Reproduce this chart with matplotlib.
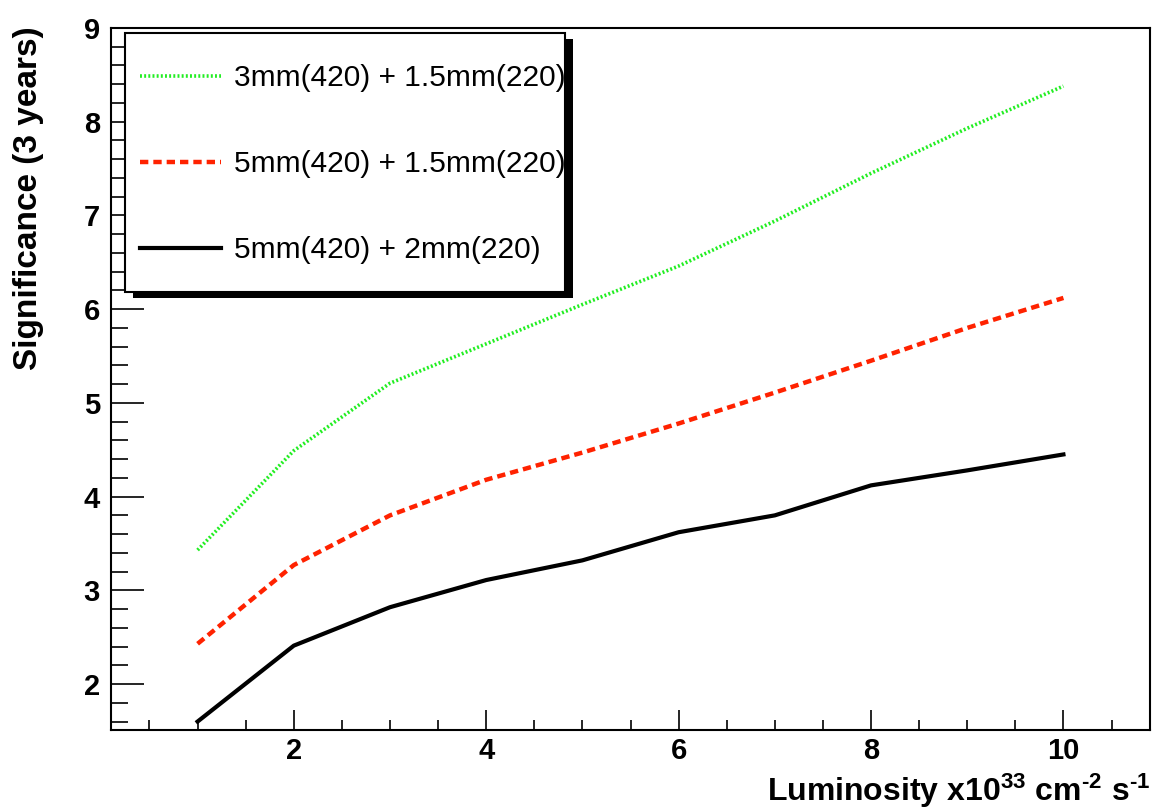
import matplotlib
matplotlib.use("Agg")
import matplotlib.pyplot as plt
from matplotlib.patches import Rectangle
from matplotlib.ticker import MultipleLocator

plt.rcParams['font.family'] = ['Liberation Sans', 'DejaVu Sans']
plt.rcParams['mathtext.fontset'] = 'custom'
plt.rcParams['mathtext.rm'] = 'Liberation Sans:bold'
plt.rcParams['mathtext.bf'] = 'Liberation Sans:bold'
plt.rcParams['mathtext.default'] = 'rm'
plt.rcParams['lines.scale_dashes'] = False

# ---- data ----
luminosity = [1, 2, 3, 4, 5, 6, 7, 8, 9, 10]
sig_3mm_15mm = [3.43, 4.49, 5.21, 5.63, 6.05, 6.46, 6.94, 7.45, 7.93, 8.38]
sig_5mm_15mm = [2.43, 3.27, 3.80, 4.18, 4.47, 4.78, 5.11, 5.45, 5.80, 6.12]
sig_5mm_2mm = [1.60, 2.41, 2.82, 3.11, 3.32, 3.62, 3.80, 4.12, 4.28, 4.45]
labels = ["3mm(420) + 1.5mm(220)", "5mm(420) + 1.5mm(220)", "5mm(420) + 2mm(220)"]

W, H = 1153, 808
fig = plt.figure(figsize=(W / 100, H / 100), dpi=100)
ax = fig.add_axes([111 / W, 1 - 730 / H, (1150 - 111) / W, (730 - 28) / H])

l1, = ax.plot(luminosity, sig_3mm_15mm, color='#22ee22', lw=2.6,
              dashes=(1.4, 1.6), dash_capstyle='butt', zorder=2)
l2, = ax.plot(luminosity, sig_5mm_15mm, color='#ff2200', lw=3.2,
              dashes=(6.0, 3.6), dash_capstyle='butt', zorder=2)
l3, = ax.plot(luminosity, sig_5mm_2mm, color='black', lw=3.0, zorder=2)

ax.set_xlim(0.1, 10.9)
ax.set_ylim(1.51, 9.0)
ax.xaxis.set_major_locator(MultipleLocator(2))
ax.xaxis.set_minor_locator(MultipleLocator(0.5))
ax.yaxis.set_major_locator(MultipleLocator(1))
ax.yaxis.set_minor_locator(MultipleLocator(0.2))

for s in ax.spines.values():
    s.set_linewidth(1.5)

ax.tick_params(axis='both', which='both', direction='in', width=1.2,
               top=False, right=False)
ax.tick_params(axis='y', which='major', length=24, pad=8, labelsize=21)
ax.tick_params(axis='y', which='minor', length=12)
ax.tick_params(axis='x', which='major', length=14.5, pad=5, labelsize=21)
ax.tick_params(axis='x', which='minor', length=7)
for t in ax.get_xticklabels() + ax.get_yticklabels():
    t.set_fontweight('bold')

fig.text(1150 / W, 7 / H,
         r"Luminosity x10$^{33}$ cm$^{\text{-}2}$ s$^{\text{-}1}$",
         ha='right', va='baseline', fontsize=23, fontweight='bold')
fig.text(29 / W, 1 - 26 / H, "Significance (3 years)", rotation=90,
         ha='center', va='top', fontsize=24, fontweight='bold')

# legend box with ROOT-style shadow
bx0, by0, bx1, by1 = 125, 33, 565, 292
sh = 8
ax.add_patch(Rectangle(((bx0 + sh) / W, 1 - (by1 + 6) / H), (bx1 - bx0) / W,
                       (by1 - by0) / H, transform=fig.transFigure,
                       facecolor='black', edgecolor='black', lw=0,
                       clip_on=False, zorder=4.3))
ax.add_patch(Rectangle((bx0 / W, 1 - by1 / H), (bx1 - bx0) / W,
                       (by1 - by0) / H, transform=fig.transFigure,
                       facecolor='white', edgecolor='black', lw=1.5,
                       clip_on=False, zorder=4.4))
leg = ax.legend([l1, l2, l3], labels, loc='upper left',
                bbox_to_anchor=(140 / W, 1 - 64 / H),
                bbox_transform=fig.transFigure, frameon=False,
                fontsize=21.5, handlelength=2.7, handletextpad=0.45,
                labelspacing=1.95, borderpad=0, borderaxespad=0)
leg.set_zorder(5)

fig.savefig("out.png", dpi=100)
